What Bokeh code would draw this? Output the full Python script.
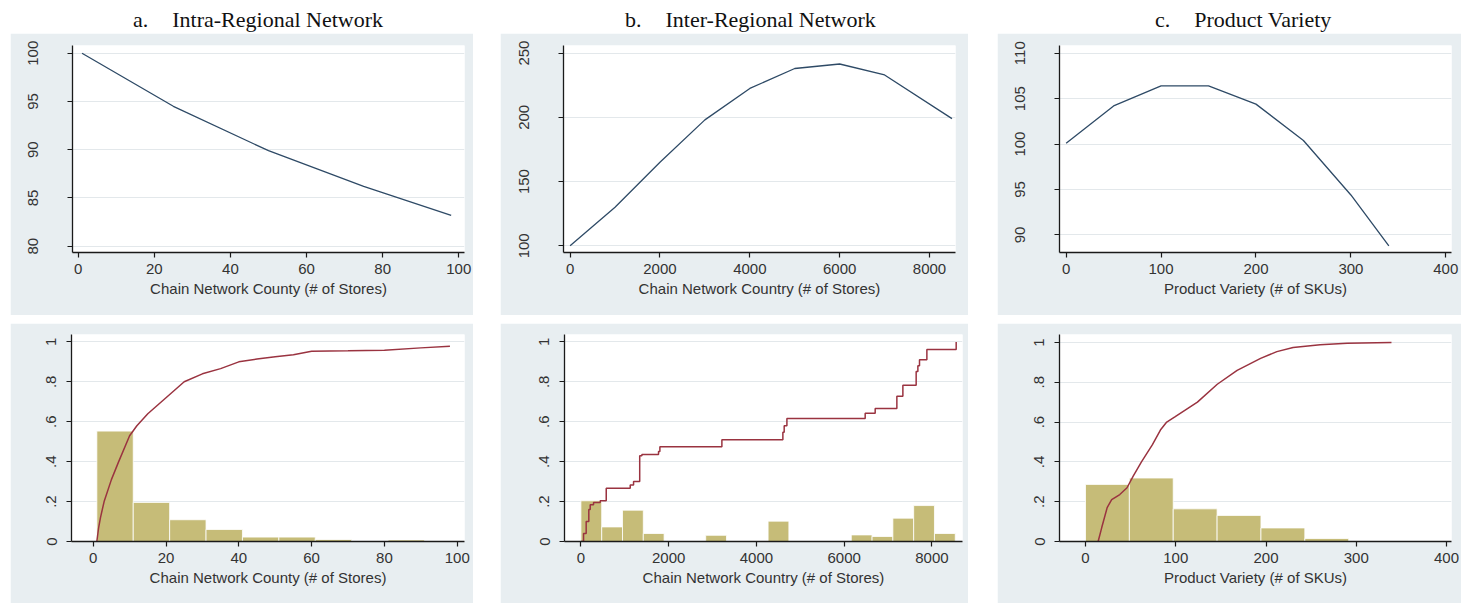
from bokeh.plotting import figure
from bokeh.models import Range1d, FixedTicker, Div, Spacer
from bokeh.layouts import row, column
from bokeh.embed import file_html
from bokeh.resources import INLINE

# ---------------- data ----------------
titles = [("a.", "Intra-Regional Network"), ("b.", "Inter-Regional Network"), ("c.", "Product Variety")]

# top row: simulated effect curves
top_a_x = [1, 25, 50, 75, 98]
top_a_y = [100, 94.5, 89.9, 86.2, 83.2]
top_b_x = [0, 1000, 2000, 3000, 4000, 5000, 6000, 7000, 8500]
top_b_y = [100, 130, 165, 198, 222.5, 238, 241.5, 233, 199]
top_c_x = [0, 50, 100, 150, 200, 250, 300, 340]
top_c_y = [100.1, 104.2, 106.4, 106.4, 104.4, 100.4, 94.4, 88.8]

# bottom row: histograms (fraction) and cumulative distributions
hist_a_edges = [1, 11, 21, 31, 41, 51, 61, 71, 81, 91, 101]
hist_a_frac = [0.553, 0.196, 0.109, 0.06, 0.022, 0.022, 0.01, 0.003, 0.008, 0.0]
cdf_a_x = [1, 1.5, 2, 3, 5, 7, 10, 12, 15, 20, 25, 30, 35, 40, 45, 50, 55, 60, 70, 80, 90, 98]
cdf_a_y = [0.0, 0.07, 0.12, 0.2, 0.31, 0.4, 0.53, 0.58, 0.64, 0.72, 0.8, 0.84, 0.866, 0.9, 0.914,
           0.925, 0.935, 0.953, 0.955, 0.958, 0.97, 0.978]

hist_b_start = 0
hist_b_width = 474
hist_b_frac = [0.204, 0.073, 0.157, 0.04, 0, 0, 0.031, 0, 0, 0.102, 0, 0, 0, 0.033, 0.025, 0.117, 0.18, 0.04]
cdf_b_x = [0, 60, 120, 180, 212, 288, 440, 577, 1124, 1200, 1340, 1390, 1769, 1800, 3213, 4603, 4633,
           4695, 6479, 6707, 7201, 7338, 7641, 7680, 7717, 7885, 8553]
cdf_b_y = [0.0, 0.04, 0.1, 0.16, 0.184, 0.196, 0.204, 0.267, 0.283, 0.30, 0.43, 0.436, 0.451, 0.475, 0.51,
           0.547, 0.58, 0.616, 0.643, 0.666, 0.728, 0.783, 0.852, 0.88, 0.91, 0.962, 1.0]

hist_c_edges = [0, 48.6, 97.2, 145.8, 194.4, 243.0, 291.6]
hist_c_frac = [0.287, 0.319, 0.164, 0.131, 0.068, 0.015]
cdf_c_x = [14, 18, 24, 29, 38, 46, 53, 62, 74, 83, 90, 99, 124, 146, 168, 194, 212, 230, 260, 290, 339]
cdf_c_y = [0, 0.07, 0.17, 0.21, 0.236, 0.27, 0.33, 0.40, 0.485, 0.56, 0.60, 0.626, 0.70, 0.79, 0.86,
           0.92, 0.954, 0.975, 0.988, 0.9965, 1.0]

xlabels = ["Chain Network County (# of Stores)", "Chain Network Country (# of Stores)", "Product Variety (# of SKUs)"]
xticks = [[0, 20, 40, 60, 80, 100], [0, 2000, 4000, 6000, 8000], [0, 100, 200, 300, 400]]
top_yticks = [[80, 85, 90, 95, 100], [100, 150, 200, 250], [90, 95, 100, 105, 110]]
frac_ticks = [0, 0.2, 0.4, 0.6, 0.8, 1]
frac_labels = ["0", ".2", ".4", ".6", ".8", "1"]

# ---------------- style ----------------
PANEL_BG = "#E8EEF1"
GRID = "#E3E8EB"
NAVY = "#2E4A66"
MAROON = "#9A3340"
KHAKI = "#C6BC78"
SANS = "Liberation Sans"


def make_fig(width, height, xr, yr, borders, xt, yt, xlabel, ystandoff, ylab_over=None):
    l, r, t, b = borders
    p = figure(width=width, height=height, x_range=Range1d(*xr), y_range=Range1d(*yr),
               output_backend="svg", toolbar_location=None,
               min_border_left=l, min_border_right=r, min_border_top=t, min_border_bottom=b)
    p.border_fill_color = PANEL_BG
    p.background_fill_color = "white"
    p.outline_line_color = None
    p.xaxis.ticker = FixedTicker(ticks=xt)
    p.yaxis.ticker = FixedTicker(ticks=yt)
    p.xgrid.visible = False
    p.ygrid.grid_line_color = GRID
    p.ygrid.grid_line_width = 1
    for ax in (p.xaxis[0], p.yaxis[0]):
        ax.axis_line_color = "#1a1a1a"
        ax.axis_line_width = 1.3
        ax.major_tick_line_color = "#1a1a1a"
        ax.major_tick_line_width = 1.2
        ax.major_tick_in = 0
        ax.major_tick_out = 5
        ax.minor_tick_line_color = None
        ax.major_label_text_font = SANS
        ax.major_label_text_font_size = "15px"
        ax.major_label_text_color = "#333333"
    p.xaxis.major_label_standoff = 6
    p.xaxis.axis_label = xlabel
    p.xaxis.axis_label_text_font = SANS
    p.xaxis.axis_label_text_font_size = "15px"
    p.xaxis.axis_label_text_font_style = "normal"
    p.xaxis.axis_label_text_color = "#333333"
    p.xaxis.axis_label_standoff = 3
    p.yaxis.major_label_orientation = "vertical"
    p.yaxis.major_label_standoff = ystandoff
    if ylab_over:
        p.yaxis.major_label_overrides = ylab_over
    return p


W = [463, 468, 464]
TITLE_H = 33
TOP_H = 282
BOT_H = 280

top_ranges = [((-1.5, 101.5), (79.35, 100.8)),
              ((-147, 8578), (94.8, 255.9)),
              ((-7, 406), (88.07, 110.85))]
top_borders = [(62, 9, 12, 63), (63, 13, 12, 63), (62, 10, 12, 63)]
bot_ranges = [((-5.96, 102), (0, 1.037)),
              ((-374, 8697), (0, 1.037)),
              ((-28.8, 405.5), (0, 1.04))]
bot_borders = [(61, 9, 11, 62), (64, 6, 11, 59), (62, 10, 11, 62)]

top_data = [(top_a_x, top_a_y), (top_b_x, top_b_y), (top_c_x, top_c_y)]

top_figs = []
for i in range(3):
    p = make_fig(W[i], TOP_H, top_ranges[i][0], top_ranges[i][1], top_borders[i],
                 xticks[i], top_yticks[i], xlabels[i], 29)
    p.line(top_data[i][0], top_data[i][1], line_color=NAVY, line_width=1.3)
    top_figs.append(p)

over = {k: v for k, v in zip(frac_ticks, frac_labels)}

# histogram edges
hist_b_edges = [hist_b_start + hist_b_width * k for k in range(len(hist_b_frac) + 1)]
hists = [(hist_a_edges, hist_a_frac), (hist_b_edges, hist_b_frac), (hist_c_edges, hist_c_frac)]

bot_figs = []
for i in range(3):
    p = make_fig(W[i], BOT_H, bot_ranges[i][0], bot_ranges[i][1], bot_borders[i],
                 xticks[i], frac_ticks, xlabels[i], 10, over)
    edges, frac = hists[i]
    p.quad(left=edges[:-1], right=edges[1:], bottom=0, top=frac,
           fill_color=KHAKI, line_color="white", line_width=0.8)
    if i == 0:
        p.line(cdf_a_x, cdf_a_y, line_color=MAROON, line_width=1.5)
    elif i == 1:
        p.step(cdf_b_x, cdf_b_y, mode="after", line_color=MAROON, line_width=1.5)
    else:
        p.line(cdf_c_x, cdf_c_y, line_color=MAROON, line_width=1.5)
    bot_figs.append(p)

pads = [123, 125, 158]
divs = []
for i in range(3):
    letter, name = titles[i]
    html = ('<div style="font-family:\'Liberation Serif\';font-size:22px;line-height:27px;padding-top:6px;'
            'color:#111;white-space:nowrap;padding-left:%dpx">%s'
            '<span style="display:inline-block;width:24px"></span>%s</div>'
            % (pads[i], letter, name))
    divs.append(Div(text=html, width=W[i], height=TITLE_H, margin=0))

LEFT = 10
GAPS = [27, 29]


def mkrow(items, h):
    return row(Spacer(width=LEFT, height=h), items[0], Spacer(width=GAPS[0], height=h), items[1],
               Spacer(width=GAPS[1], height=h), items[2], spacing=0)


layout = column(mkrow(divs, TITLE_H), mkrow(top_figs, TOP_H), Spacer(height=8, width=10),
                mkrow(bot_figs, BOT_H), spacing=0)

open("out.html", "w").write(file_html(layout, INLINE))
